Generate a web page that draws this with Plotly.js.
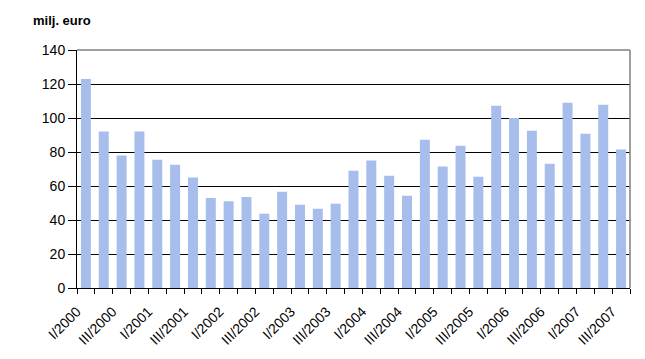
<!DOCTYPE html>
<html>
<head>
<meta charset="utf-8">
<script src="https://cdn.plot.ly/plotly-3.0.1.min.js"></script>
<style>html,body{margin:0;padding:0;background:#fff;}#chart{width:645px;height:359px;}</style>
</head>
<body>
<div id="chart"></div>
<script>
var categories = ["I/2000","II/2000","III/2000","IV/2000",
  "I/2001","II/2001","III/2001","IV/2001",
  "I/2002","II/2002","III/2002","IV/2002",
  "I/2003","II/2003","III/2003","IV/2003",
  "I/2004","II/2004","III/2004","IV/2004",
  "I/2005","II/2005","III/2005","IV/2005",
  "I/2006","II/2006","III/2006","IV/2006",
  "I/2007","II/2007","III/2007"];
var values = [123, 92, 78, 92,
  75.5, 72.5, 65, 53,
  51, 53.5, 43.7, 56.6,
  49, 46.6, 49.6, 69,
  75, 66, 54.3, 87.2,
  71.4, 83.7, 65.5, 107.2,
  100, 92.5, 73.1, 109,
  90.8, 107.8, 81.4];
var tickLabels = ["I/2000","","III/2000","",
  "I/2001","","III/2001","",
  "I/2002","","III/2002","",
  "I/2003","","III/2003","",
  "I/2004","","III/2004","",
  "I/2005","","III/2005","",
  "I/2006","","III/2006","",
  "I/2007","","III/2007"];
var yTicks = [0, 20, 40, 60, 80, 100, 120, 140];
var unitLabel = "milj. euro";

var trace = {
  type: 'bar',
  x: categories,
  y: values,
  marker: {color: '#A7BDEB', line: {width: 0}},
  hoverinfo: 'x+y'
};

var layout = {
  width: 645, height: 359,
  margin: {l: 77, r: 15, t: 50, b: 71, pad: 0},
  paper_bgcolor: '#ffffff',
  plot_bgcolor: '#ffffff',
  showlegend: false,
  bargap: 0.44,
  font: {family: 'Arial, "Liberation Sans", sans-serif', size: 13, color: '#000'},
  xaxis: {
    type: 'category',
    tickmode: 'array',
    tickvals: categories,
    ticktext: tickLabels,
    tickson: 'boundaries',
    ticks: 'outside', ticklen: 5, tickwidth: 1, tickcolor: '#000',
    tickangle: -45,
    ticklabelstandoff: 9,
    ticklabelshift: -9,
    showline: true, linecolor: '#000', linewidth: 1,
    showgrid: false, zeroline: false,
    tickfont: {size: 14, color: '#000'}
  },
  yaxis: {
    range: [0, 140],
    tickmode: 'array',
    tickvals: yTicks,
    ticks: 'outside', ticklen: 8, tickwidth: 1, tickcolor: '#000',
    showline: true, linecolor: '#000', linewidth: 1,
    showgrid: true, gridcolor: '#000', gridwidth: 1,
    zeroline: false,
    tickfont: {size: 14, color: '#000'}
  },
  shapes: [
    {type: 'line', xref: 'paper', yref: 'paper', x0: 0, x1: 1, y0: 1, y1: 1,
     line: {color: '#808080', width: 1.5}},
    {type: 'line', xref: 'paper', yref: 'paper', x0: 1, x1: 1, y0: 0, y1: 1,
     line: {color: '#808080', width: 1.5}}
  ],
  annotations: [
    {text: '<b>' + unitLabel + '</b>', xref: 'paper', yref: 'paper',
     x: -0.084, y: 1.125, xanchor: 'left', yanchor: 'middle', showarrow: false,
     font: {size: 13, color: '#000'}}
  ]
};

Plotly.newPlot('chart', [trace], layout, {displayModeBar: false, staticPlot: true});
</script>
</body>
</html>
